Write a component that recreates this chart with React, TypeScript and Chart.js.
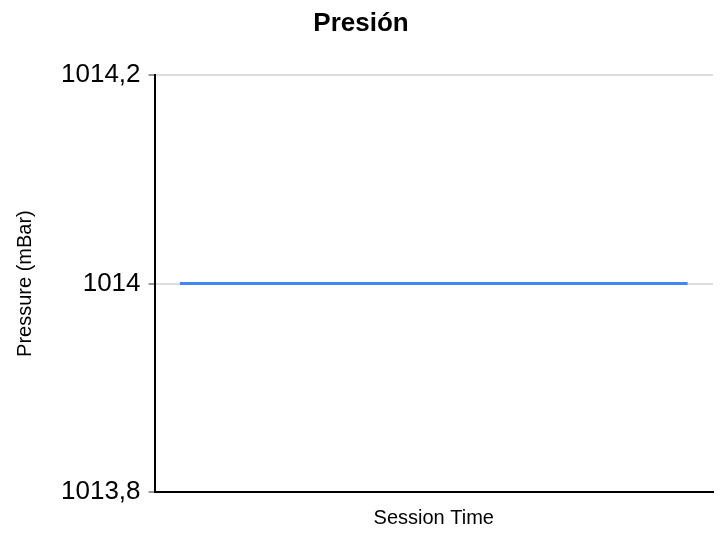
import React, { useEffect, useRef } from "react";
import { Chart, registerables } from "chart.js";

Chart.register(...registerables);

const sessionTimes = ["0", "1", "2", "3", "4", "5", "6", "7", "8", "9", "10"];
const pressureValues = [1014, 1014, 1014, 1014, 1014, 1014, 1014, 1014, 1014, 1014, 1014];
const yTickValues = [1013.8, 1014, 1014.2];

const FONT = "'Liberation Sans', Arial, Helvetica, sans-serif";

export default function App() {
  const ref = useRef<HTMLCanvasElement | null>(null);

  useEffect(() => {
    document.body.style.margin = "0";
    if (!ref.current) return;
    const chart = new Chart(ref.current, {
      type: "line",
      data: {
        labels: sessionTimes,
        datasets: [
          {
            label: "Pressure",
            data: pressureValues,
            borderColor: "#4285F4",
            backgroundColor: "#4285F4",
            borderWidth: 3,
            pointRadius: 0,
            tension: 0,
          },
        ],
      },
      options: {
        animation: false,
        responsive: false,
        maintainAspectRatio: false,
        layout: { padding: { left: 9, right: 11, top: 0, bottom: 3 } },
        plugins: {
          legend: { display: false },
          tooltip: { enabled: false },
          title: {
            display: true,
            text: "Presión",
            color: "#000",
            font: { family: FONT, size: 26, weight: "bold" },
            padding: { top: 8, bottom: 36 },
          },
        },
        scales: {
          x: {
            type: "category",
            offset: true,
            grid: { display: false },
            border: { display: true, color: "#000", width: 2 },
            ticks: { display: false },
            title: {
              display: true,
              text: "Session Time",
              color: "#000",
              font: { family: FONT, size: 20 },
              padding: { top: 6, bottom: 0 },
            },
          },
          y: {
            min: 1013.8,
            max: 1014.2,
            afterBuildTicks: (axis: any) => {
              axis.ticks = yTickValues.map((v) => ({ value: v }));
            },
            grid: {
              color: "#dddddd",
              lineWidth: 2,
              tickColor: "#999999",
              tickLength: 6,
            },
            border: { display: true, color: "#000", width: 2 },
            ticks: {
              color: "#000",
              padding: 8,
              font: { family: FONT, size: 26 },
              callback: (v: any) => String(Math.round(Number(v) * 10) / 10).replace(".", ","),
            },
            title: {
              display: true,
              text: "Pressure (mBar)",
              color: "#000",
              font: { family: FONT, size: 20 },
              padding: { top: 4, bottom: 16 },
            },
          },
        },
      },
    });
    return () => chart.destroy();
  }, []);

  return (
    <div style={{ width: 724, height: 533 }}>
      <canvas ref={ref} width={724} height={533} style={{ display: "block" }} />
    </div>
  );
}
